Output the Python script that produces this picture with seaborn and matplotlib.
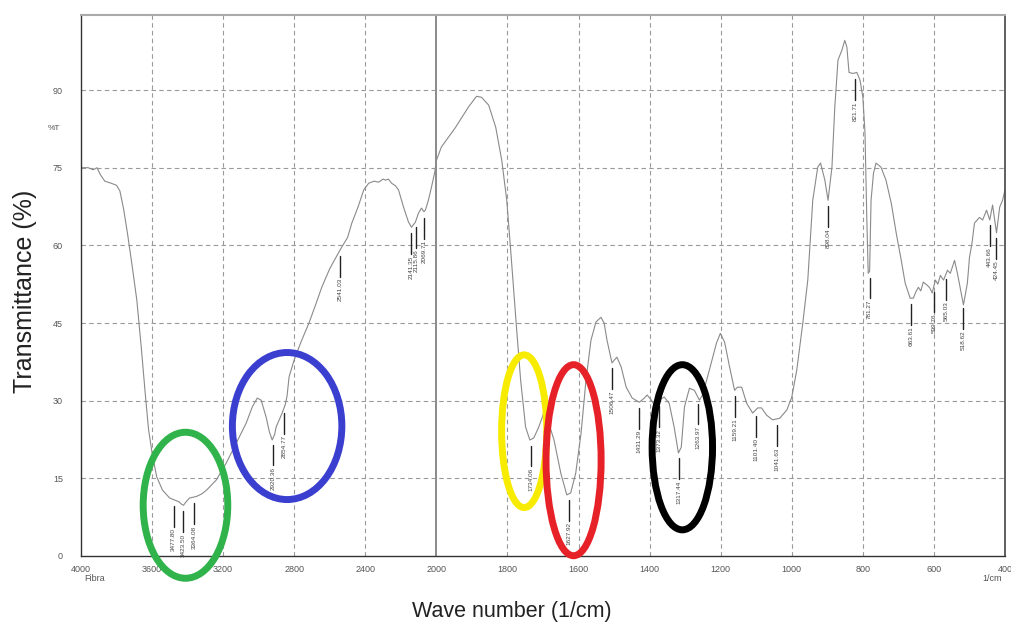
import numpy as np
import pandas as pd
import seaborn as sns
import matplotlib
matplotlib.use("Agg")
import matplotlib.pyplot as plt
from matplotlib.patches import Ellipse

# spectrum (wavenumber in 1/cm, transmittance in %)
wavenumber = [4000, 3960, 3930, 3910, 3890, 3866, 3830, 3800, 3781, 3760, 3737, 3712,
              3686, 3660, 3640, 3620, 3600, 3574, 3541, 3501, 3473, 3450, 3434, 3423,
              3410, 3389, 3350, 3320, 3294, 3238, 3182, 3126, 3070, 3036, 3008, 2986,
              2958, 2940, 2924, 2910, 2902, 2868, 2850, 2840, 2829, 2801, 2760, 2717,
              2680, 2644, 2600, 2560, 2532, 2500, 2476, 2440, 2409, 2381, 2350, 2325,
              2300, 2286, 2270, 2252, 2230, 2213, 2185, 2157, 2140, 2118, 2101, 2084,
              2070, 2062, 2045, 2028, 2010, 2000, 1986, 1946, 1910, 1887, 1873, 1853,
              1833, 1816, 1802, 1791, 1782, 1774, 1763, 1749, 1737, 1726, 1712, 1698,
              1689, 1669, 1650, 1633, 1622, 1608, 1593, 1579, 1565, 1551, 1537, 1528,
              1520, 1506, 1500, 1492, 1480, 1466, 1449, 1429, 1415, 1407, 1395, 1387,
              1373, 1359, 1345, 1331, 1319, 1311, 1302, 1288, 1274, 1260, 1251, 1232,
              1212, 1201, 1189, 1175, 1161, 1153, 1141, 1127, 1110, 1096, 1085, 1071,
              1054, 1034, 1014, 1000, 986, 969, 955, 941, 927, 919, 907, 898,
              887, 879, 870, 859, 851, 845, 839, 828, 817, 808, 800, 794,
              789, 785, 781, 777, 770, 763, 749, 735, 720, 706, 692, 681,
              667, 658, 651, 644, 637, 630, 619, 612, 605, 596, 589, 582,
              573, 562, 554, 542, 534, 525, 517, 506, 500, 493, 486, 472,
              463, 452, 443, 435, 424, 415, 407, 400]
transmittance = [75.0, 75.0, 74.6, 75.0, 73.6, 72.4, 72.0, 71.6, 70.5, 67.0, 62.0, 56.0,
                 49.5, 40.0, 32.0, 24.5, 19.9, 15.3, 12.7, 11.2, 10.8, 10.5, 10.0, 9.8,
                 10.4, 11.2, 11.5, 12.0, 12.7, 14.7, 18.0, 21.8, 25.7, 28.8, 30.5, 30.1,
                 26.8, 24.0, 22.4, 23.5, 24.9, 27.6, 29.3, 31.0, 34.6, 37.8, 41.5, 45.0,
                 48.5, 52.0, 55.5, 58.0, 59.7, 61.5, 64.3, 67.5, 70.7, 72.0, 72.4, 72.2,
                 72.8, 72.6, 72.8, 72.0, 71.5, 70.7, 67.4, 64.5, 63.5, 64.5, 66.2, 67.2,
                 66.5, 66.8, 68.7, 71.2, 74.0, 76.4, 79.0, 82.8, 86.7, 88.8, 88.6, 87.1,
                 82.8, 76.4, 68.7, 59.1, 50.8, 43.6, 34.0, 24.9, 22.4, 22.8, 24.9, 27.6,
                 26.8, 22.4, 16.0, 11.8, 12.2, 16.0, 23.7, 34.0, 41.7, 45.2, 46.1, 45.0,
                 41.7, 37.3, 37.8, 38.4, 36.5, 32.6, 30.5, 29.7, 30.5, 31.1, 30.1, 29.2,
                 30.1, 30.7, 29.5, 24.9, 19.9, 21.0, 28.8, 32.4, 32.0, 30.1, 31.1, 35.9,
                 41.1, 43.0, 41.3, 36.5, 32.0, 32.6, 32.6, 29.5, 27.6, 28.6, 28.6, 27.2,
                 26.3, 26.6, 28.2, 30.7, 35.9, 45.0, 53.3, 68.7, 75.1, 75.9, 72.6, 68.7,
                 75.1, 86.7, 95.8, 97.7, 99.6, 98.3, 93.4, 93.2, 93.4, 91.9, 88.6, 81.7,
                 65.4, 54.6, 55.0, 68.7, 74.0, 75.9, 75.1, 72.6, 68.1, 62.3, 57.1, 52.7,
                 49.8, 49.8, 51.0, 51.9, 51.2, 52.9, 52.3, 51.8, 50.8, 53.3, 52.5, 54.2,
                 53.3, 55.2, 54.6, 57.1, 54.6, 51.4, 48.5, 52.7, 57.7, 60.4, 64.3, 65.4,
                 64.9, 66.8, 64.9, 67.8, 62.4, 67.4, 68.7, 70.7]

peak_labels = ["3477.80", "3423.50", "3364.08", "2920.36", "2854.77", "2541.03",
               "2141.35", "2115.86", "2069.71", "1734.06", "1627.92", "1506.47",
               "1431.29", "1373.32", "1317.44", "1263.97", "1159.21", "1101.40",
               "1041.63", "898.04", "821.71", "781.27", "663.61", "599.76",
               "565.03", "518.62", "443.66", "424.45"]

# highlighted bands: centre wavenumber, centre %T, width (1/cm), height (%T), colour
circle_wn = [3412, 2840, 1753, 1614, 1308]
circle_t = [9.8, 25.1, 24.1, 18.5, 21.0]
circle_w = [476, 616, 127, 155, 170]
circle_h = [28.2, 28.4, 29.5, 36.9, 31.9]
circle_colors = ["#2fb34a", "#3b3fd0", "#f7ec00", "#e62128", "#000000"]

x_major = [4000, 3600, 3200, 2800, 2400, 2000, 1800, 1600, 1400, 1200, 1000, 800, 600, 400]
y_major = [0, 15, 30, 45, 60, 75, 90]


def fwd(x):
    # the instrument compresses 4000-2000 to half the scale of 2000-400
    x = np.asarray(x, dtype=float)
    return np.where(x > 2000, 2000 + (x - 2000) / 2.0, x)


def inv(t):
    t = np.asarray(t, dtype=float)
    return np.where(t > 2000, 2000 + (t - 2000) * 2.0, t)


sns.set_style("white")
plt.rcParams['font.family'] = ['Liberation Sans', 'DejaVu Sans']

df = pd.DataFrame({"wavenumber": wavenumber, "transmittance": transmittance})

fig = plt.figure(figsize=(10.11, 6.24), dpi=100)
ax = fig.add_axes([0.0801, 0.109, 0.914, 0.867])
ax.set_xscale('function', functions=(fwd, inv))

sns.lineplot(data=df, x="wavenumber", y="transmittance", ax=ax, sort=False,
             estimator=None, color="#8a8a8a", linewidth=0.8)

ax.set_xlim(4000, 400)
ax.set_ylim(0, 104.5)

# grid
for xv in x_major[1:-1]:
    if xv == 2000:
        ax.axvline(xv, color="#777777", lw=1.2, zorder=0)
    else:
        ax.axvline(xv, color="#9a9a9a", lw=0.8, ls=(0, (4, 3)), zorder=0)
for yv in y_major[1:]:
    ax.axhline(yv, color="#9a9a9a", lw=0.8, ls=(0, (4, 3)), zorder=0)

# ticks
minor_x = [v for v in range(4000, 2000, -80)] + [v for v in range(2000, 399, -40)]
ax.set_xticks(x_major)
ax.set_xticklabels([str(v) for v in x_major])
ax.set_xticks(minor_x, minor=True)
ax.set_yticks(y_major)
ax.set_yticks(np.arange(0, 104, 3), minor=True)
ax.tick_params(axis='x', which='major', direction='inout', length=9, width=0.9,
               colors='#333333', labelsize=6.5, labelcolor='#555555', pad=2)
ax.tick_params(axis='x', which='minor', direction='in', length=4, width=0.8, colors='#333333')
ax.tick_params(axis='y', which='major', direction='out', length=10, width=0.9,
               colors='#333333', labelsize=6.5, labelcolor='#555555', pad=3)
ax.tick_params(axis='y', which='minor', direction='out', length=5, width=0.9, colors='#333333')

for side in ['left', 'bottom']:
    ax.spines[side].set_color('#333333')
    ax.spines[side].set_linewidth(1.0)
ax.spines['right'].set_color('#444444')
ax.spines['right'].set_linewidth(1.2)
ax.spines['top'].set_color('#aaaaaa')
ax.spines['top'].set_linewidth(1.5)

# peak markers
order = np.argsort(wavenumber)
wn_sorted = np.array(wavenumber, dtype=float)[order]
t_sorted = np.array(transmittance)[order]
for lab in peak_labels:
    wn = float(lab)
    t = np.interp(wn, wn_sorted, t_sorted)
    top = t - 1.2
    bottom = t - 5.2
    ax.plot([wn, wn], [top, bottom], color="#222222", lw=1.0)
    ax.text(wn, bottom - 0.3, lab, rotation=90, ha='center', va='top',
            fontsize=4.6, color="#444444")

# coloured highlight ellipses
for cx, cy, w, h, c in zip(circle_wn, circle_t, circle_w, circle_h, circle_colors):
    ax.add_patch(Ellipse((cx, cy), w, h, fill=False, edgecolor=c, lw=5, clip_on=False, zorder=5))

ax.set_xlabel("Wave number (1/cm)", fontsize=15.5, color="#222222")
ax.set_ylabel("Transmittance (%)", fontsize=18, color="#222222")
ax.xaxis.set_label_coords(0.466, -0.083)
ax.yaxis.set_label_coords(-0.048, 0.49)

ax.text(-0.029, 0.79, "%T", transform=ax.transAxes, fontsize=6, color="#555555",
        ha='center', va='center')
ax.text(0.003, -0.034, "Fibra", transform=ax.transAxes, fontsize=6.5, color="#555555",
        ha='left', va='top')
ax.text(0.996, -0.034, "1/cm", transform=ax.transAxes, fontsize=6.5, color="#555555",
        ha='right', va='top')

fig.savefig("out.png", dpi=100)
